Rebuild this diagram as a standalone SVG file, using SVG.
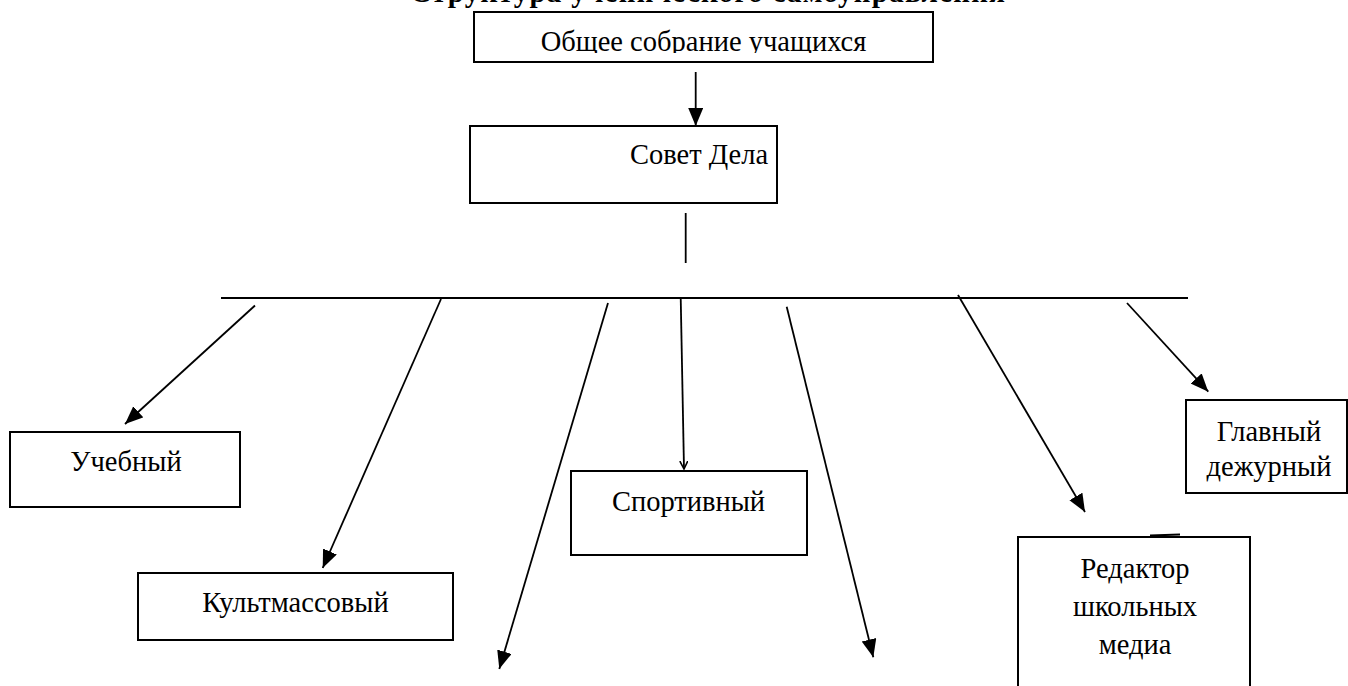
<svg xmlns="http://www.w3.org/2000/svg" width="1348" height="686" viewBox="0 0 1348 686">
<style>
.box{fill:#fff;stroke:#000;stroke-width:2}
.t{font-family:"Liberation Serif","Times New Roman",serif;font-size:28.5px;fill:#000}
.c{text-anchor:middle}
.ln{stroke:#000;stroke-width:1.8;fill:none}
.title{font-family:"Liberation Serif","Times New Roman",serif;font-size:29px;font-weight:bold;fill:#000}
</style>
<defs>
<marker id="ah" markerUnits="userSpaceOnUse" markerWidth="20" markerHeight="16" refX="18" refY="7.5" orient="auto" viewBox="0 0 20 16">
<path d="M0,0 L18,7.5 L0,15 z" fill="#000"/>
</marker>
<marker id="ahs" markerUnits="userSpaceOnUse" markerWidth="10" markerHeight="10" refX="8" refY="4.5" orient="auto" viewBox="0 0 10 10">
<path d="M0,0.5 L8,4.5 L0,8.5" fill="none" stroke="#000" stroke-width="1.6"/>
</marker>
<clipPath id="c1"><rect x="474" y="12" width="459" height="41"/></clipPath>
</defs>
<rect width="1348" height="686" fill="#fff"/>
<text id="title" class="title" x="410" y="1.5" textLength="595" lengthAdjust="spacing">Структура ученического самоуправления</text>
<g id="n-obshchee">
<rect class="box" x="474" y="12" width="459" height="50"/>
<text class="t c" x="703.5" y="50.5" clip-path="url(#c1)">Общее собрание учащихся</text>
</g>
<g id="n-sovet">
<rect class="box" x="470" y="126" width="307" height="77"/>
<text class="t" x="630" y="164">Совет Дела</text>
</g>
<g id="n-uchebny">
<rect class="box" x="10" y="432" width="230" height="75"/>
<text class="t c" x="126" y="471">Учебный</text>
</g>
<g id="n-kult">
<rect class="box" x="138" y="573" width="315" height="67"/>
<text class="t c" x="295.5" y="612">Культмассовый</text>
</g>
<g id="n-sport">
<rect class="box" x="571" y="471" width="236" height="84"/>
<text class="t c" x="688.5" y="511">Спортивный</text>
</g>
<g id="n-glavny">
<rect class="box" x="1186" y="400" width="161" height="93"/>
<text class="t c" x="1269" y="441">Главный</text>
<text class="t c" x="1269" y="476">дежурный</text>
</g>
<g id="n-redaktor">
<rect class="box" x="1018" y="537" width="232" height="160"/>
<path class="ln" d="M1150,535.5 L1180,534.5" stroke-width="1.5"/>
<text class="t c" x="1135" y="578">Редактор</text>
<text class="t c" x="1135" y="616">школьных</text>
<text class="t c" x="1135" y="654">медиа</text>
</g>
<g id="connectors">
<line class="ln" x1="695.7" y1="72" x2="695.7" y2="126" marker-end="url(#ah)"/>
<line class="ln" x1="685.7" y1="213" x2="685.7" y2="263"/>
<line class="ln" x1="221" y1="298" x2="1188" y2="298"/>
<line class="ln" x1="255" y1="305.5" x2="125" y2="424" marker-end="url(#ah)"/>
<line class="ln" x1="441" y1="299" x2="322.7" y2="568" marker-end="url(#ah)"/>
<line class="ln" x1="608" y1="303" x2="499.3" y2="669" marker-end="url(#ah)"/>
<line class="ln" x1="680.7" y1="297" x2="684" y2="469" marker-end="url(#ahs)"/>
<line class="ln" x1="786.7" y1="306.8" x2="873.3" y2="657.3" marker-end="url(#ah)"/>
<line class="ln" x1="958" y1="295" x2="1085" y2="512" marker-end="url(#ah)"/>
<line class="ln" x1="1127" y1="303" x2="1208.3" y2="391.7" marker-end="url(#ah)"/>
</g>
</svg>
